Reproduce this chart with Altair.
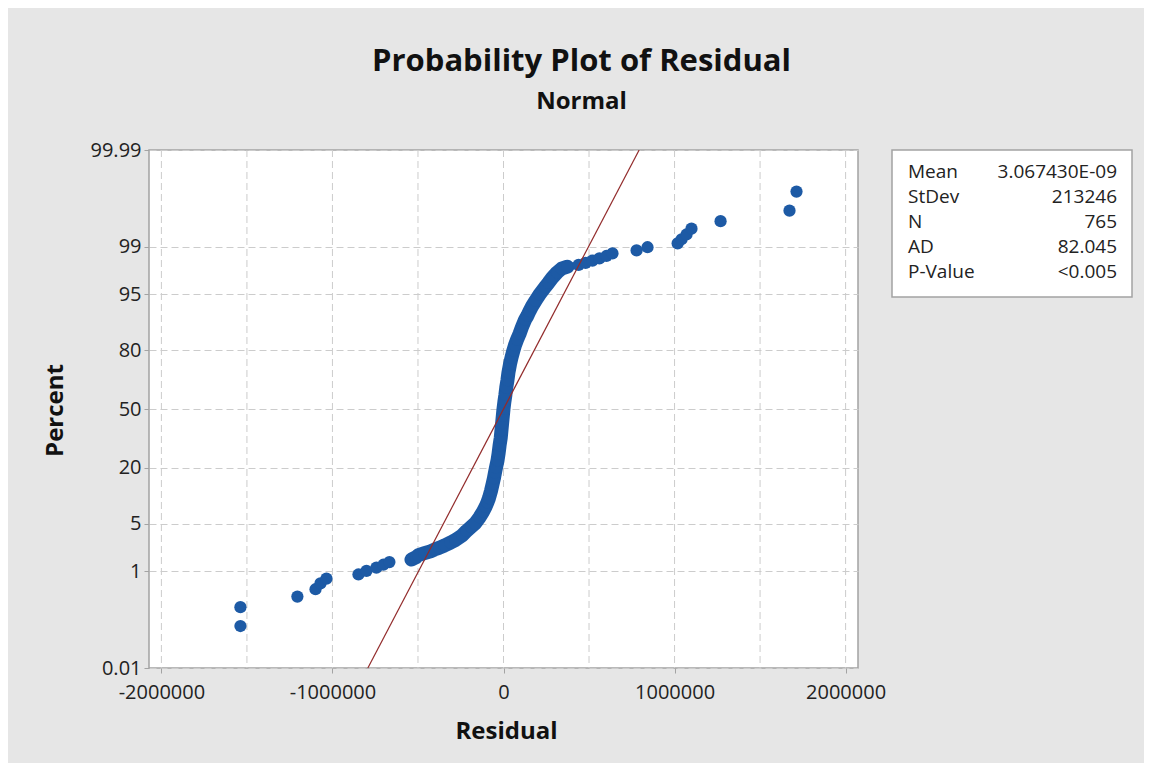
import altair as alt
import pandas as pd
from statistics import NormalDist

# ---------------- data ----------------
# lowest residuals (individual dots), percent = plotting position
low_residual = [-1538000, -1538000, -1205000, -1099000, -1070000, -1035000,
                -848000, -801000, -743000, -702000, -667000]
low_percent = [0.0915, 0.222, 0.353, 0.483, 0.614, 0.745,
               0.875, 1.006, 1.137, 1.267, 1.398]

# dense central band of residuals
band_residual = [-538000, -512000, -497000, -462000, -427000, -404000, -377000,
                 -345000, -310000, -281000, -240000, -216000, -190000, -167000,
                 -140000, -120000, -105000, -94000, -85000, -73000, -64000,
                 -56000, -50000, -44000, -35000, -29000, -23000, -16000, -12000,
                 -8000, -4000, 0, 5000, 11000, 16000, 23000, 29000, 38000, 47000,
                 58000, 67000, 79000, 94000, 108000, 126000, 140000, 152000,
                 167000, 187000, 211000, 243000, 263000, 284000, 313000, 339000,
                 374000]
band_percent = [1.53, 1.66, 1.79, 1.92, 2.05, 2.18, 2.31, 2.5, 2.75, 3.0, 3.5, 4.0,
                4.5, 5, 6, 7, 8, 9, 10, 12, 14, 16, 18, 20, 23, 26, 30, 34, 38,
                42, 46, 50, 54, 58, 62, 66, 70, 74, 77, 80, 82, 84, 86, 88, 90,
                91, 92, 93, 94, 95, 96, 96.5, 97, 97.5, 97.8, 97.95]

# highest residuals (individual dots)
high_residual = [439000, 480000, 520000, 561000, 602000, 637000, 778000, 842000,
                 1018000, 1041000, 1070000, 1099000, 1269000, 1672000, 1713000]
high_percent = [98.08, 98.21, 98.34, 98.47, 98.60, 98.73, 98.86, 98.99,
                99.13, 99.26, 99.39, 99.52, 99.65, 99.78, 99.91]

# summary statistics box
stat_labels = ["Mean", "StDev", "N", "AD", "P-Value"]
stat_values = ["3.067430E-09", "213246", "765", "82.045", "<0.005"]
mean_value = 3.067430e-09
stdev_value = 213246

# axis ticks
y_tick_percent = [0.01, 1, 5, 20, 50, 80, 95, 99, 99.99]
x_tick_values = [-2000000, -1000000, 0, 1000000, 2000000]
x_grid_values = [-2000000, -1500000, -1000000, -500000, 0, 500000,
                 1000000, 1500000, 2000000]
fit_percent = [0.01, 99.99]

# ---------------- chart ----------------
FONT = "Open Sans"
BLUE = "#1d5aa5"
W, H = 709, 518
nd = NormalDist()
Z_MAX = nd.inv_cdf(0.9999)
y_tick_z = [nd.inv_cdf(p / 100) for p in y_tick_percent]

points = pd.DataFrame({
    "residual": low_residual + band_residual + high_residual,
    "percent": low_percent + band_percent + high_percent,
})
band = pd.DataFrame({"residual": band_residual, "percent": band_percent})
fit = pd.DataFrame({"percent": fit_percent})
grid = pd.DataFrame({"residual": x_grid_values})
stats = pd.DataFrame({"labels": ["\n".join(stat_labels)],
                      "values": ["\n".join(stat_values)]})

x_scale = alt.Scale(domain=[-2072500, 2072500], nice=False, zero=False)
y_scale = alt.Scale(domain=[-Z_MAX, Z_MAX], nice=False, zero=False)

x_axis = alt.Axis(values=x_tick_values, labelExpr="toString(datum.value)",
                  title="Residual", grid=False,
                  titleX=357, titleY=63, titleAlign="center", titleBaseline="middle")
y_axis = alt.Axis(values=y_tick_z, title="Percent", grid=True,
                  labelExpr="round(cumulativeNormal(datum.value) * 10000) / 100",
                  titleX=-94, titleY=260, titleAlign="center", titleBaseline="middle",
                  titleAngle=270)

X = alt.X("residual:Q", scale=x_scale, axis=x_axis)
Y = alt.Y("z:Q", scale=y_scale, axis=y_axis)

grid_layer = alt.Chart(grid).mark_rule(
    color="#cccccc", strokeDash=[7, 4], strokeWidth=1
).encode(x=X)

band_layer = alt.Chart(band).transform_calculate(
    z="quantileNormal(datum.percent / 100)"
).mark_line(color=BLUE, strokeWidth=14, strokeCap="round", strokeJoin="round").encode(
    x=X, y=Y, order="percent:Q")

point_layer = alt.Chart(points).transform_calculate(
    z="quantileNormal(datum.percent / 100)"
).mark_circle(size=150, color=BLUE, opacity=1).encode(x=X, y=Y)

fit_layer = alt.Chart(fit).transform_calculate(
    z="quantileNormal(datum.percent / 100)",
    residual=f"{mean_value} + {stdev_value} * quantileNormal(datum.percent / 100)",
).mark_line(color="#922b2b", strokeWidth=1.2, clip=True).encode(x=X, y=Y)

box_layer = alt.Chart(stats).mark_rect(
    fill="white", stroke="#a3a3a3", strokeWidth=1.5
).encode(x=alt.value(743), x2=alt.value(983), y=alt.value(0), y2=alt.value(147))

label_layer = alt.Chart(stats).mark_text(
    align="left", baseline="middle", font=FONT, fontSize=19, lineHeight=25,
    lineBreak="\n", color="#222"
).encode(x=alt.value(759), y=alt.value(22), text="labels:N")

value_layer = alt.Chart(stats).mark_text(
    align="right", baseline="middle", font=FONT, fontSize=19, lineHeight=25,
    lineBreak="\n", color="#222"
).encode(x=alt.value(968), y=alt.value(22), text="values:N")

chart = alt.layer(
    grid_layer, band_layer, point_layer, fit_layer, box_layer, label_layer, value_layer
).properties(
    width=W, height=H,
    title=alt.TitleParams(
        "Probability Plot of Residual", subtitle="Normal",
        font=FONT, fontSize=31, fontWeight="bold", color="#111",
        subtitleFont=FONT, subtitleFontSize=24, subtitleFontWeight="bold",
        subtitleColor="#111", subtitlePadding=12,
        anchor="middle", frame="group", dx=78, offset=25,
    ),
    autosize=alt.AutoSizeParams(type="none"),
    padding={"left": 141, "top": 142, "right": 286, "bottom": 95},
    background="#e6e6e6",
).configure_view(
    fill="white", stroke="#a3a3a3", strokeWidth=1.5
).configure_axis(
    labelFont=FONT, labelFontSize=20, labelColor="#222",
    titleFont=FONT, titleFontSize=24, titleFontWeight="bold", titleColor="#111",
    tickColor="#a3a3a3", tickSize=5, domain=False,
    gridColor="#cccccc", gridDash=[7, 4],
).configure_axisX(labelPadding=9).configure_axisY(labelPadding=3)

chart.save("out.html", embed_options={"renderer": "svg", "actions": False})
